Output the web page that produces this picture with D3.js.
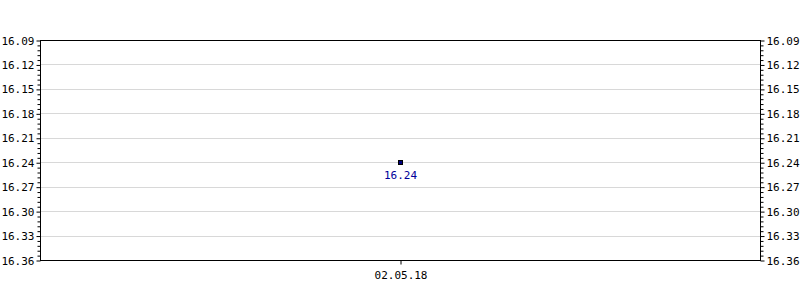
<!DOCTYPE html>
<html><head><meta charset="utf-8">
<script src="https://cdn.jsdelivr.net/npm/d3@7"></script>
<style>
html,body{margin:0;padding:0;background:#fff;}
text{font-family:"DejaVu Sans Mono",monospace;font-size:11px;}
</style></head>
<body><svg id="c" width="800" height="300"></svg>
<script>
const categories = ["02.05.18"];
const values = [16.24];
const valueLabels = ["16.24"];
const yTicks = [16.09,16.12,16.15,16.18,16.21,16.24,16.27,16.30,16.33,16.36];
const yDomain = [16.09, 16.36];

const svg = d3.select("#c");
const L=40,R=760,T=40,B=260;
const x = d3.scalePoint().domain(categories).range([L,R]).padding(0.5);
const y = d3.scaleLinear().domain(yDomain).range([T,B]);

// minor ticks
const minor = [];
for (let i=0;i<yTicks.length-1;i++){
  for (let k=1;k<5;k++) minor.push(yTicks[i] + (yTicks[i+1]-yTicks[i])*k/5);
}

// gridlines
svg.append("g").selectAll("line").data(yTicks.slice(1,-1)).join("line")
  .attr("x1",L).attr("x2",R).attr("y1",d=>Math.round(y(d))+0.5).attr("y2",d=>Math.round(y(d))+0.5)
  .attr("stroke","#d8d8d8").attr("stroke-width",1);

const fmt = d=>d.toFixed(2);
const leftAxis = d3.axisLeft(y).tickValues(yTicks).tickFormat(fmt).tickSize(4).tickPadding(2);
const rightAxis = d3.axisRight(y).tickValues(yTicks).tickFormat(fmt).tickSize(4).tickPadding(2);

function styleAxis(g){
  g.select(".domain").remove();
  g.selectAll("line").attr("stroke","#000");
  g.selectAll("text").attr("fill","#000").style("font-family","DejaVu Sans Mono, monospace").style("font-size","11px");
}
svg.append("g").attr("transform",`translate(${L+0.5},0.5)`).call(leftAxis).call(styleAxis);
svg.append("g").attr("transform",`translate(${R+0.5},0.5)`).call(rightAxis).call(styleAxis);

// minor ticks
svg.append("g").attr("transform",`translate(${L+0.5},0.5)`)
  .call(d3.axisLeft(y).tickValues(minor).tickFormat("").tickSize(3)).call(styleAxis);
svg.append("g").attr("transform",`translate(${R+0.5},0.5)`)
  .call(d3.axisRight(y).tickValues(minor).tickFormat("").tickSize(3)).call(styleAxis);

// bottom axis
const bx = d3.axisBottom(x).tickSize(4).tickPadding(7);
svg.append("g").attr("transform",`translate(0.5,${B+0.5})`).call(bx).call(styleAxis);

// frame
svg.append("rect").attr("x",L+0.5).attr("y",T+0.5).attr("width",R-L).attr("height",B-T)
  .attr("fill","none").attr("stroke","#000").attr("stroke-width",1);

// point
svg.append("g").selectAll("rect").data(values).join("rect")
  .attr("x",(d,i)=>Math.round(x(categories[i]))-2+0.5)
  .attr("y",d=>Math.round(y(d))-2+0.5)
  .attr("width",4).attr("height",4)
  .attr("fill","#000080").attr("stroke","#000").attr("stroke-width",1);

svg.append("g").selectAll("text").data(values).join("text")
  .attr("x",(d,i)=>x(categories[i])+0.5)
  .attr("y",d=>y(d)+17)
  .attr("text-anchor","middle").attr("fill","#000099")
  .text((d,i)=>valueLabels[i]);
</script></body></html>
